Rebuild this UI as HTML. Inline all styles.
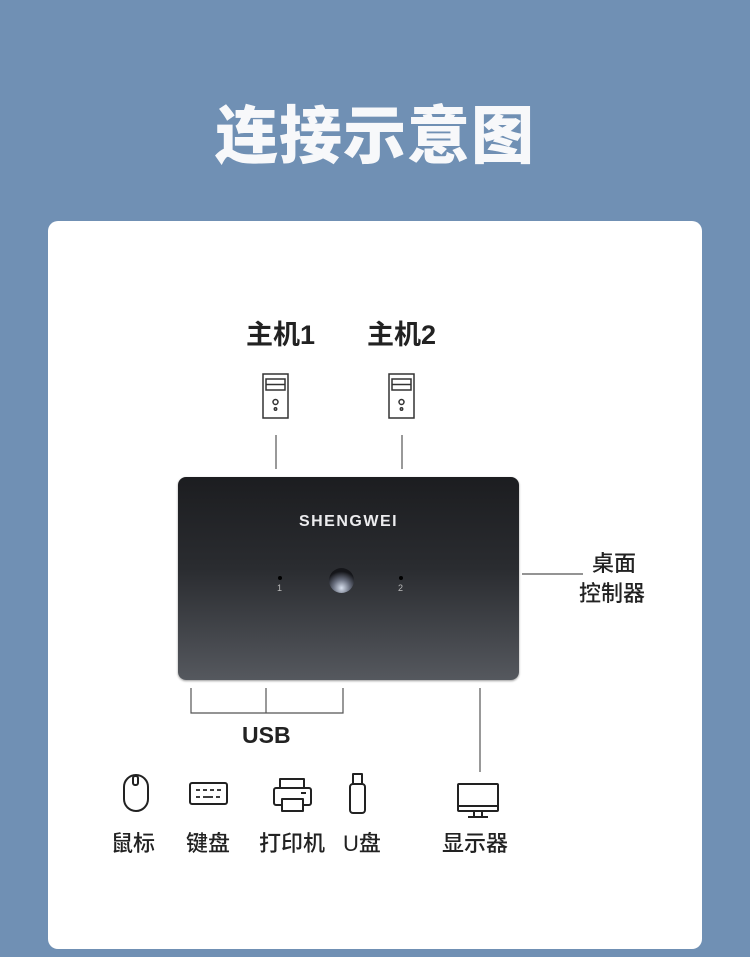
<!DOCTYPE html>
<html><head><meta charset="utf-8"><style>
*{margin:0;padding:0;box-sizing:border-box}
body{width:750px;height:957px;background:#7090b4;position:relative;overflow:hidden;font-family:"Liberation Sans","Noto Sans CJK SC",sans-serif}
.t{position:absolute;color:#222;white-space:nowrap;line-height:1}
.m{font-weight:500}
#title{position:absolute;left:0;width:750px;top:100px;text-align:center;color:#f7f8fa;font-size:63px;font-weight:900;line-height:1;letter-spacing:1px;font-family:"Noto Sans CJK SC",sans-serif}
#card{position:absolute;left:48px;top:221px;width:654px;height:728px;background:#fff;border-radius:10px}
#dev{position:absolute;left:178px;top:477px;width:341px;height:203px;border-radius:8px;background:linear-gradient(180deg,#1c1d20 0%,#2a2c30 45%,#55585e 100%);box-shadow:0 1px 2px rgba(0,0,0,.4)}
</style></head><body>
<div id="title">连接示意图</div>
<div id="card"></div>
<div class="t" style="left:246px;top:322px;font-size:27px;font-weight:bold">主机1</div>
<div class="t" style="left:367px;top:322px;font-size:27px;font-weight:bold">主机2</div>
<svg style="position:absolute;left:0;top:0" width="750" height="957">
<g fill="none" stroke="#333" stroke-width="1.5">
<rect x="263" y="374" width="25" height="44"/><rect x="266" y="379" width="19" height="11"/><line x1="266" y1="384.5" x2="285" y2="384.5"/><circle cx="275.5" cy="402" r="2.5"/><circle cx="275.5" cy="409" r="1.2"/>
<rect x="389" y="374" width="25" height="44"/><rect x="392" y="379" width="19" height="11"/><line x1="392" y1="384.5" x2="411" y2="384.5"/><circle cx="401.5" cy="402" r="2.5"/><circle cx="401.5" cy="409" r="1.2"/>
</g>
<g stroke="#555" stroke-width="1.2" fill="none">
<line x1="276" y1="435" x2="276" y2="469"/><line x1="402" y1="435" x2="402" y2="469"/>
<line x1="522" y1="574" x2="583" y2="574"/>
<polyline points="191,688 191,713 343,713 343,688"/><line x1="266" y1="688" x2="266" y2="713"/>
<line x1="480" y1="688" x2="480" y2="772"/>
</g>
<g fill="none" stroke="#222" stroke-width="2" stroke-linejoin="round">
<rect x="124" y="775" width="24" height="36" rx="12"/><rect x="133" y="776" width="5" height="9" rx="2"/>
<rect x="190" y="783" width="37" height="21" rx="2"/>
<path d="M196 790h4M203 790h4M210 790h4M217 790h4M196 797h4M203 797h10M216 797h4" stroke-width="1.8"/>
<rect x="280" y="779" width="24" height="9"/><rect x="274" y="788" width="37" height="17" rx="2"/><rect x="282" y="799" width="21" height="12" fill="#fff"/><line x1="301" y1="793" x2="306" y2="793"/>
<rect x="353" y="774" width="9" height="10"/><rect x="350" y="784" width="15" height="29" rx="3"/>
<rect x="458" y="784" width="40" height="27" rx="1"/><line x1="458" y1="806" x2="498" y2="806"/><line x1="474" y1="811" x2="474" y2="817"/><line x1="482" y1="811" x2="482" y2="817"/><line x1="468" y1="817" x2="488" y2="817"/>
</g>
</svg>
<div id="dev">
<div style="position:absolute;left:0;width:341px;top:36px;text-align:center;color:#ececee;font-size:16px;font-weight:bold;letter-spacing:1.5px">SHENGWEI</div>
<div style="position:absolute;left:100px;top:99px;width:4px;height:4px;border-radius:50%;background:#000"></div>
<div style="position:absolute;left:99px;top:106px;color:#bbb;font-size:9px">1</div>
<div style="position:absolute;left:221px;top:99px;width:4px;height:4px;border-radius:50%;background:#000"></div>
<div style="position:absolute;left:220px;top:106px;color:#bbb;font-size:9px">2</div>
<div style="position:absolute;left:151px;top:91px;width:25px;height:25px;border-radius:50%;background:radial-gradient(circle at 50% 80%,#d8e0ee 0%,#6a7080 35%,#15161a 70%)"></div>
</div>
<div class="t m" style="left:592px;top:553px;font-size:22px">桌面</div>
<div class="t m" style="left:579px;top:583px;font-size:22px">控制器</div>
<div class="t" style="left:242px;top:724px;font-size:23px;font-weight:bold">USB</div>
<div class="t m" style="left:111px;top:833px;font-size:22px">鼠标</div>
<div class="t m" style="left:186px;top:833px;font-size:22px">键盘</div>
<div class="t m" style="left:259px;top:833px;font-size:22px">打印机</div>
<div class="t m" style="left:343px;top:833px;font-size:22px">U盘</div>
<div class="t m" style="left:442px;top:833px;font-size:22px">显示器</div>
</body></html>
